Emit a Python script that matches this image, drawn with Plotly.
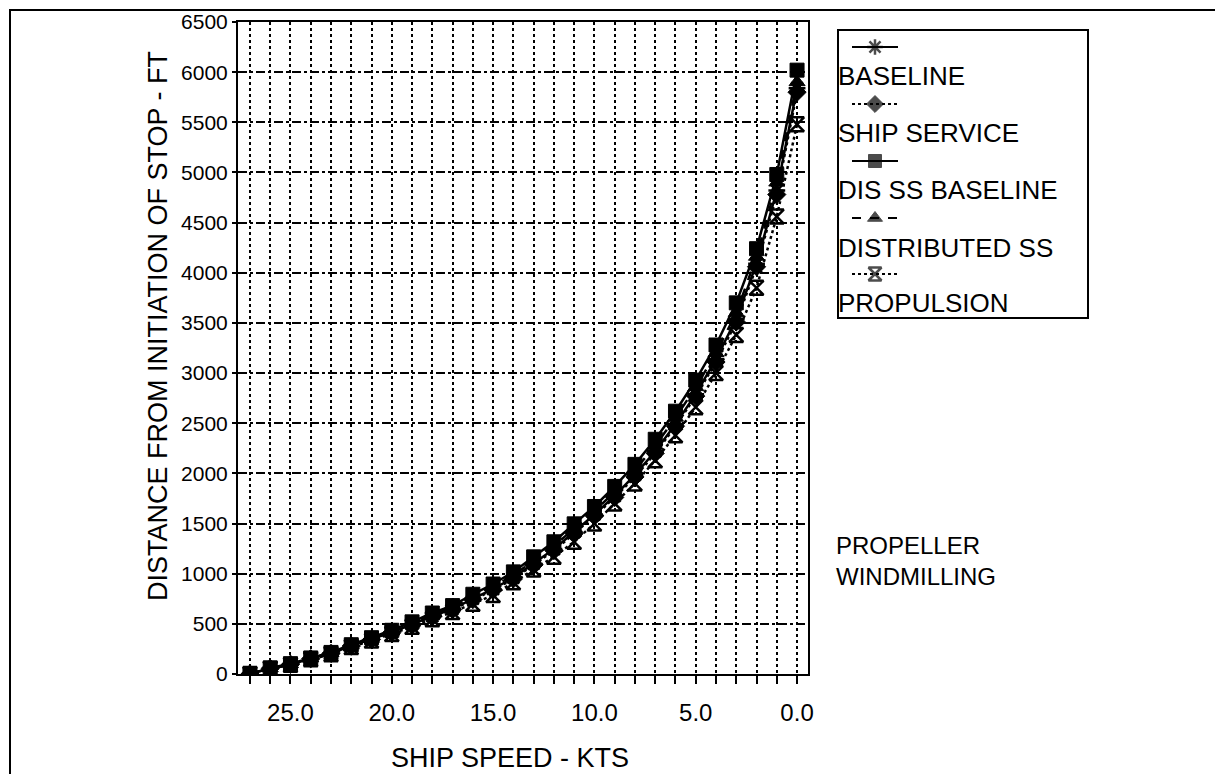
import plotly.graph_objects as go

# ---- data ----
speed_kts = [27, 26, 25, 24, 23, 22, 21, 20, 19, 18, 17, 16, 15, 14, 13, 12, 11, 10, 9, 8, 7, 6, 5, 4, 3, 2, 1, 0]

dis_ss_baseline = [0, 60, 102, 160, 215, 292, 362, 436, 520, 608, 682, 795, 897, 1018, 1168, 1318, 1497, 1670, 1870, 2090, 2340, 2620, 2930, 3280, 3700, 4240, 4980, 6020]
distributed_ss = [0, 58, 99, 156, 210, 285, 352, 424, 505, 590, 663, 772, 870, 985, 1130, 1275, 1450, 1625, 1815, 2035, 2275, 2555, 2860, 3200, 3600, 4160, 4900, 5900]
baseline = [0, 56, 97, 153, 207, 280, 346, 416, 494, 576, 650, 752, 848, 960, 1100, 1245, 1415, 1590, 1775, 1985, 2220, 2490, 2790, 3140, 3540, 4090, 4820, 5840]
ship_service = [0, 55, 96, 152, 205, 278, 344, 412, 488, 570, 643, 742, 836, 948, 1085, 1230, 1400, 1575, 1760, 1965, 2200, 2470, 2770, 3110, 3510, 4060, 4780, 5800]
propulsion = [0, 52, 92, 146, 198, 268, 333, 398, 470, 545, 618, 700, 787, 914, 1041, 1169, 1318, 1500, 1700, 1900, 2130, 2380, 2660, 3000, 3380, 3850, 4560, 5480]

series_names = ["BASELINE", "SHIP SERVICE", "DIS SS BASELINE", "DISTRIBUTED SS", "PROPULSION"]
series_values = [baseline, ship_service, dis_ss_baseline, distributed_ss, propulsion]
series_dash = ["solid", "dot", "solid", "dash", "dot"]
series_symbol = ["asterisk", "diamond", "square", "triangle-up", "hourglass-open"]

x_tick_vals = list(range(0, 28))
x_tick_text = ["%.1f" % v if v % 5 == 0 else "" for v in x_tick_vals]
y_tick_vals = list(range(0, 6501, 500))

x_title = "SHIP SPEED - KTS"
y_title = "DISTANCE FROM INITIATION OF STOP - FT"

FONT = "Liberation Sans, Arial, Helvetica, sans-serif"

# figure / plot-area geometry in pixels
W, H = 1223, 774
L, R, T, B = 230, 800, 14, 666


def px(x):
    return x / W


def py(y):
    return 1 - y / H


def marker_style(sym, size):
    if sym in ("asterisk", "hourglass-open"):
        return dict(symbol=sym, size=size, color="black", line=dict(color="black", width=2.5))
    return dict(symbol=sym, size=size, color="black", line=dict(color="black", width=1))


fig = go.Figure()

draw_order = [4, 1, 0, 3, 2]
for i in draw_order:
    fig.add_trace(go.Scatter(
        x=speed_kts, y=series_values[i], mode="lines+markers", name=series_names[i],
        line=dict(color="black", width=2.5, dash=series_dash[i]),
        marker=marker_style(series_symbol[i], 14), showlegend=False,
        xaxis="x", yaxis="y"))

# custom legend (symbol above label), samples drawn on an overlay axis in pixel units
leg_x0, leg_x1 = 830, 1080
leg_y0, leg_y1 = 22, 310
sym_rows = [39, 96, 153, 210, 266]
txt_rows = [68, 125, 182, 240, 295]
for i, name in enumerate(series_names):
    mk = marker_style(series_symbol[i], 13)
    mk["size"] = [0, 13, 0]
    fig.add_trace(go.Scatter(
        x=[844, 867, 890], y=[sym_rows[i]] * 3, mode="lines+markers",
        line=dict(color="black", width=2, dash=series_dash[i]), marker=mk,
        showlegend=False, hoverinfo="skip", xaxis="x2", yaxis="y2"))
    fig.add_annotation(text=name, xref="paper", yref="paper", x=px(828), y=py(txt_rows[i]),
                       xanchor="left", yanchor="middle", showarrow=False,
                       font=dict(family=FONT, size=26, color="black"))

fig.add_annotation(text="PROPELLER<br>WINDMILLING", xref="paper", yref="paper",
                   x=px(826), y=py(553), xanchor="left", yanchor="middle", align="left",
                   showarrow=False, font=dict(family=FONT, size=24, color="black"))

# axis titles
fig.add_annotation(text=x_title, xref="paper", yref="paper", x=px(502), y=py(750),
                   xanchor="center", yanchor="middle", showarrow=False,
                   font=dict(family=FONT, size=27, color="black"))
fig.add_annotation(text=y_title, xref="paper", yref="paper", x=px(150), y=py(318),
                   xanchor="center", yanchor="middle", showarrow=False, textangle=-90,
                   font=dict(family=FONT, size=27, color="black"))

# legend box and outer frame
fig.add_shape(type="rect", xref="paper", yref="paper", x0=px(leg_x0), x1=px(leg_x1),
              y0=py(leg_y1), y1=py(leg_y0), line=dict(color="black", width=2))
fig.add_shape(type="rect", xref="paper", yref="paper", x0=px(2), x1=px(1209),
              y0=py(768), y1=py(2), line=dict(color="black", width=2))

fig.update_layout(
    width=W, height=H,
    margin=dict(l=0, r=0, t=0, b=0),
    paper_bgcolor="white", plot_bgcolor="rgba(0,0,0,0)",
    font=dict(family=FONT, color="black"),
    xaxis=dict(domain=[px(L), px(R)], range=[27.59, -0.54], tickmode="array",
               tickvals=x_tick_vals, ticktext=x_tick_text,
               ticks="outside", ticklen=8, tickwidth=1.5, tickcolor="black",
               showline=True, linecolor="black", linewidth=2, mirror=True,
               showgrid=True, gridcolor="black", gridwidth=2, griddash="dot",
               zeroline=False, automargin=False, ticklabelstandoff=8,
               tickfont=dict(size=24, family=FONT, color="black")),
    yaxis=dict(domain=[py(B), py(T)], range=[0, 6500], tickmode="array", tickvals=y_tick_vals,
               ticks="outside", ticklen=4, tickwidth=1.5, tickcolor="black",
               showline=True, linecolor="black", linewidth=2, mirror=True,
               showgrid=True, gridcolor="black", gridwidth=2, griddash="dashdot",
               zeroline=False, automargin=False,
               tickfont=dict(size=21, family=FONT, color="black")),
    xaxis2=dict(domain=[0, 1], range=[0, W], anchor="y2", visible=False),
    yaxis2=dict(domain=[0, 1], range=[H, 0], anchor="x2", visible=False),
)

fig.write_html("out.html")
